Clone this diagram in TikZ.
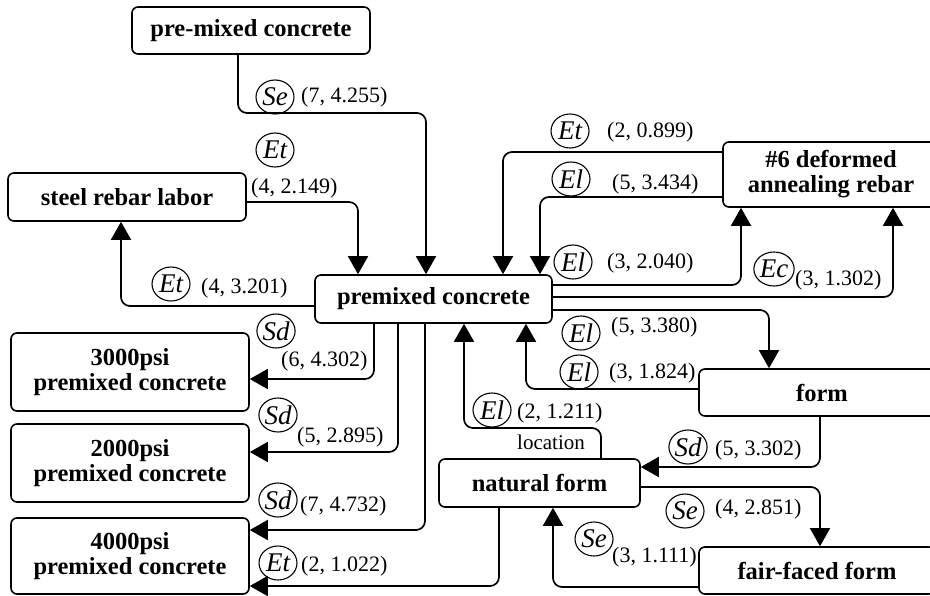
\documentclass[tikz,border=0pt]{standalone}
\usepackage{fontspec}
\setmainfont{Liberation Serif}
\usetikzlibrary{arrows.meta,shapes.geometric}
\begin{document}
\begin{tikzpicture}[x=1pt,y=-1pt,
  box/.style={draw, line width=1.6pt, rounded corners=6pt, align=center,
    inner sep=0pt, font=\fontsize{24.5}{25}\selectfont\bfseries},
  conn/.style={line width=1.7pt, rounded corners=9pt,
    -{Triangle[width=20pt,length=18pt]}},
  tag/.style={draw, ellipse, line width=1.1pt, inner sep=0pt,
    minimum width=38pt, minimum height=34pt,
    font=\fontsize{27}{27}\selectfont\itshape},
  val/.style={anchor=west, inner sep=0pt, font=\fontsize{22}{22}\selectfont}]
\clip (0,0) rectangle (930,595);

% entities
\node[box, minimum width=238pt, minimum height=47pt] (pmc) at (251,30.5) {pre-mixed concrete};
\node[box, minimum width=238pt, minimum height=48pt] (srl) at (127,197) {steel rebar labor};
\node[box, minimum width=237pt, minimum height=48pt] (pc) at (433.5,299) {premixed concrete};
\node[box, minimum width=216pt, minimum height=65pt] (rebar) at (831,174.5) {\#6 deformed\\annealing rebar};
\node[box, minimum width=238pt, minimum height=78pt] (c3000) at (130,372) {3000psi\\premixed concrete};
\node[box, minimum width=238pt, minimum height=78pt] (c2000) at (130,463) {2000psi\\premixed concrete};
\node[box, minimum width=238pt, minimum height=76pt] (c4000) at (130,556) {4000psi\\premixed concrete};
\node[box, minimum width=246pt, minimum height=47pt] (form) at (822,392.5) {form};
\node[box, minimum width=201pt, minimum height=48pt] (nat) at (539.5,483) {natural form};
\node[box, minimum width=236pt, minimum height=47pt] (ff) at (817,570.5) {fair-faced form};

% relations
\draw[conn] ([xshift=-13pt]pmc.south) |- (426,113) -- ([xshift=-7.5pt]pc.north);
\node[tag] (t1) at (275,97) {Se};
\node[val] (v1) at (301,97) {(7, 4.255)};

\draw[conn] ([yshift=-5pt]srl.east) -| ([xshift=-75.5pt]pc.north);
\node[tag] (t2) at (275,150) {Et};
\node[val] (v2) at (251,188) {(4, 2.149)};

\draw[conn] ([yshift=-7pt]pc.west) -| ([xshift=-6pt]srl.south);
\node[tag] (t3) at (171,284) {Et};
\node[val] (v3) at (201,288) {(4, 3.201)};

\draw[conn] ([yshift=22.5pt]rebar.west) -| ([xshift=69.5pt]pc.north);
\node[tag] (t4) at (570,131) {Et};
\node[val] (v4) at (607,132) {(2, 0.899)};

\draw[conn] ([yshift=-22.5pt]rebar.west) -| ([xshift=106.5pt]pc.north);
\node[tag] (t5) at (571,179) {El};
\node[val] (v5) at (612,184) {(5, 3.434)};

\draw[conn] ([yshift=14pt]pc.east) -| ([xshift=-90pt]rebar.south);
\node[tag] (t6) at (573,262) {El};
\node[val] (v6) at (607,263) {(3, 2.040)};

\draw[conn] ([yshift=2pt]pc.east) -| ([xshift=62pt]rebar.south);
\node[tag] (t7) at (774,269) {Ec};
\node[val] (v7) at (795,280) {(3, 1.302)};

\draw[conn] ([yshift=-11pt]pc.east) -| ([xshift=-53pt]form.north);
\node[tag] (t8) at (581,333) {El};
\node[val] (v8) at (611,327) {(5, 3.380)};

\draw[conn] ([yshift=3.5pt]form.west) -| ([xshift=92.5pt]pc.south);
\node[tag] (t9) at (579,372) {El};
\node[val] (v9) at (609,373) {(3, 1.824)};

\draw[conn] ([xshift=61.5pt]nat.north) |- (464,428) -- ([xshift=30.5pt]pc.south);
\node[tag] (t10) at (492,410) {El};
\node[val] (v10) at (517,413) {(2, 1.211)};
\node[inner sep=0pt, font=\fontsize{21}{21}\selectfont] (loc) at (551,442) {location};

\draw[conn] ([xshift=-2pt]form.south) |- ([yshift=16pt]nat.east);
\node[tag] (t11) at (688,447) {Sd};
\node[val] (v11) at (715,450) {(5, 3.302)};

\draw[conn] ([yshift=-4pt]nat.east) -| ([xshift=3pt]ff.north);
\node[tag] (t12) at (685,511) {Se};
\node[val] (v12) at (715,509) {(4, 2.851)};

\draw[conn] ([yshift=-16.5pt]ff.west) -| ([xshift=13.5pt]nat.south);
\node[tag] (t13) at (594,539) {Se};
\node[val] (v13) at (612,557) {(3, 1.111)};

\draw[conn] ([xshift=-40.5pt]nat.south) |- ([yshift=-30pt]c4000.east);
\node[tag] (t14) at (278,563) {Et};
\node[val] (v14) at (301,566) {(2, 1.022)};

\draw[conn] ([xshift=-59.5pt]pc.south) |- ([yshift=-7pt]c3000.east);
\node[tag] (t15) at (276,331) {Sd};
\node[val] (v15) at (281,361) {(6, 4.302)};

\draw[conn] ([xshift=-35.5pt]pc.south) |- ([yshift=11pt]c2000.east);
\node[tag] (t16) at (278,415) {Sd};
\node[val] (v16) at (297,437) {(5, 2.895)};

\draw[conn] ([xshift=-8.5pt]pc.south) |- ([yshift=26pt]c4000.east);
\node[tag] (t17) at (278,500) {Sd};
\node[val] (v17) at (300,506) {(7, 4.732)};
\end{tikzpicture}
\end{document}
